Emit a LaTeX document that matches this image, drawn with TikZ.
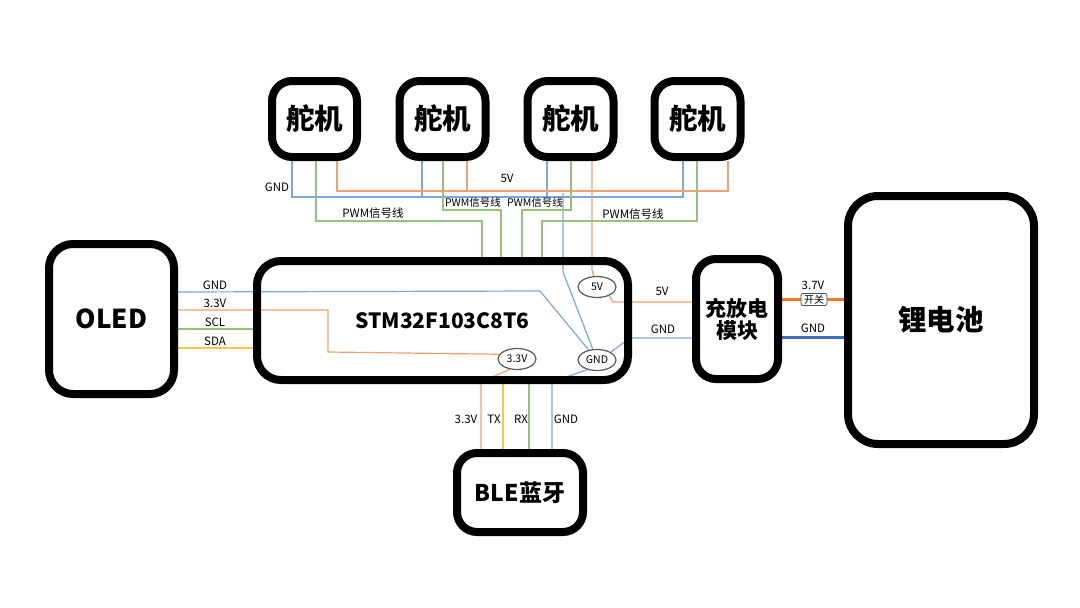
\documentclass[tikz,border=0pt]{standalone}
\usepackage{fontspec}
\setmainfont{Noto Sans CJK SC}
\usetikzlibrary{calc,shapes.geometric,backgrounds}
\definecolor{cb}{RGB}{125,165,225}
\definecolor{co}{RGB}{242,160,110}
\definecolor{cg}{RGB}{150,195,120}
\definecolor{cy}{RGB}{245,200,70}
\definecolor{tko}{RGB}{236,122,40}
\definecolor{tkb}{RGB}{60,110,200}
\begin{document}
\begin{tikzpicture}[x=1pt,y=-1pt,
  box/.style={draw=black, line width=8pt, rounded corners=20pt, inner sep=0pt, align=center, font=\bfseries\fontsize{28.5}{32}\selectfont},
  oval/.style={draw=black!65, line width=1.2pt, ellipse, fill=white, minimum width=38pt, minimum height=21pt, inner sep=0pt, font=\fontsize{10.5}{12}\selectfont},
  lbl/.style={inner sep=0pt, font=\fontsize{11.5}{13}\selectfont},
  slbl/.style={inner sep=0pt, font=\fontsize{10.5}{12}\selectfont},
  bl/.style={draw=cb, line width=1.2pt},
  or/.style={draw=co, line width=1.2pt},
  gr/.style={draw=cg, line width=1.2pt},
  ye/.style={draw=cy, line width=1.2pt},
]
\useasboundingbox (0,0) rectangle (1080,608);

% boxes
\node[box, fill=white, minimum width=85pt, minimum height=76pt] (s1) at (314.5,119) {舵机};
\node[box, fill=white, minimum width=86pt, minimum height=76pt] (s2) at (442.5,119) {舵机};
\node[box, fill=white, minimum width=86pt, minimum height=76pt] (s3) at (570.5,119) {舵机};
\node[box, fill=white, minimum width=86pt, minimum height=76pt] (s4) at (697.5,119) {舵机};
\node[box, minimum width=371pt, minimum height=119pt, rounded corners=24pt, font=\bfseries\fontsize{21}{24}\selectfont] (stm) at (442.5,320.5) {STM32F103C8T6};
\node[box, fill=white, minimum width=125pt, minimum height=150pt, rounded corners=24pt, font=\bfseries\fontsize{26}{30}\selectfont] (oled) at (111.5,319) {OLED};
\node[box, fill=white, minimum width=82pt, minimum height=120pt, font=\bfseries\fontsize{21}{24}\selectfont] (chg) at (737,319) {充放电\\[-2pt]模块};
\node[box, fill=white, minimum width=186pt, minimum height=248pt, rounded corners=30pt, font=\bfseries\fontsize{28.5}{32}\selectfont] (bat) at (941,320) {锂电池};
\node[box, fill=white, minimum width=126pt, minimum height=79pt, font=\bfseries\fontsize{23}{28}\selectfont] (ble) at (520,492.5) {BLE蓝牙};

% ellipses
\node[oval] (v5) at (597,287) {5V};
\node[oval] (gnd) at (597,360) {GND};
\node[oval] (v33) at (517,359) {3.3V};

% pins
\coordinate (s1b) at ($(s1.south)+(-22.5,0)$);
\coordinate (s1g) at ($(s1.south)+(1.5,0)$);
\coordinate (s1o) at ($(s1.south)+(22.5,0)$);
\coordinate (s2b) at ($(s2.south)+(-20.5,0)$);
\coordinate (s2g) at ($(s2.south)+(0.5,0)$);
\coordinate (s2o) at ($(s2.south)+(24.5,0)$);
\coordinate (s3b) at ($(s3.south)+(-23.5,0)$);
\coordinate (s3g) at ($(s3.south)+(0.5,0)$);
\coordinate (s3o) at ($(s3.south)+(21.5,0)$);
\coordinate (s4b) at ($(s4.south)+(-14.5,0)$);
\coordinate (s4g) at ($(s4.south)+(-0.5,0)$);
\coordinate (s4o) at ($(s4.south)+(30.5,0)$);
\coordinate (p1) at (482,221);
\coordinate (p2) at (501,210);
\coordinate (p3) at (522,210);
\coordinate (p4) at (542,221);
\coordinate (gx) at (563,193);
\coordinate (gk) at (563,272);
\coordinate (ok) at (592,270);
\coordinate (og) at (540,291);
\coordinate (o3a) at (328,310);
\coordinate (o3b) at (328,352);
\coordinate (v5k) at (613,302);
\coordinate (gk2) at (630,338);
\coordinate (bo) at (481,382);
\coordinate (bg) at (552,382);

\begin{scope}[on background layer]
\fill[white] (0,0) rectangle (1080,608);
% servo buses
\draw[bl] (s1b) -- ++(0,36) -| (s4b);
\draw[bl] (s2b) -- ++(0,36);
\draw[bl] (s3b) -- ++(0,36);
\draw[bl] (gx) -- (gk) -- (gnd);
\draw[or] (s1o) -- ++(0,30) -| (s4o);
\draw[or] (s2o) -- ++(0,30);
\draw[or] (s3o) -- (ok) -- (v5);
\draw[gr] (s1g) |- (p1) -- (p1 |- stm.north);
\draw[gr] (s2g) |- (p2) -- (p2 |- stm.north);
\draw[gr] (s3g) |- (p3) -- (p3 |- stm.north);
\draw[gr] (s4g) |- (p4) -- (p4 |- stm.north);
% OLED
\draw[bl] ($(oled.east)+(0,-27)$) -- (og) -- (gnd);
\draw[or] ($(oled.east)+(0,-9)$) -- (o3a) -- (o3b) -- (v33.165);
\draw[gr] ($(oled.east)+(0,10)$) coordinate (scl) -- (scl -| stm.west);
\draw[ye] ($(oled.east)+(0,29)$) coordinate (sda) -- (sda -| stm.west);
% charge module
\draw[or] (v5.-35) -- (v5k) -- ($(chg.west)+(0,-17)$);
\draw[bl] (gnd.30) -- (gk2) -- ($(chg.west)+(0,19)$);
% BLE
\draw[or] ($(ble.north)+(-39,0)$) -- (bo) -- (v33.-125);
\draw[ye] ($(ble.north)+(-17,0)$) coordinate (tx) -- (tx |- stm.south);
\draw[gr] ($(ble.north)+(9,0)$) coordinate (rx) -- (rx |- stm.south);
\draw[bl] ($(ble.north)+(32,0)$) -- (bg) -- (gnd.-135);
% battery
\draw[draw=tko, line width=3pt] ($(chg.east)+(0,-20)$) -- ($(bat.west)+(0,-21)$);
\draw[draw=tkb, line width=3pt] ($(chg.east)+(0,18)$) -- ($(bat.west)+(0,17)$);
\end{scope}

\node[draw=black!70, line width=0.8pt, rounded corners=2pt, fill=white, inner sep=0.8pt, minimum width=26pt, minimum height=12pt, font=\fontsize{10}{11}\selectfont] (sw) at (814,299.5) {开关};

% labels
\node[lbl] (lgt) at (277,187) {GND};
\node[lbl] (l5t) at (507,178) {5V};
\node[lbl] (pw1) at (373,213) {PWM信号线};
\node[slbl] (pw2) at (473,203) {PWM信号线};
\node[slbl] (pw3) at (535,203) {PWM信号线};
\node[lbl] (pw4) at (633,214) {PWM信号线};
\node[lbl] (lo1) at (215,285) {GND};
\node[lbl] (lo2) at (215,303.5) {3.3V};
\node[lbl] (lo3) at (215,322.5) {SCL};
\node[lbl] (lo4) at (215,341.5) {SDA};
\node[lbl] (lc5) at (662,291) {5V};
\node[lbl] (lcg) at (663,329) {GND};
\node[lbl] (lb3) at (813,285) {3.7V};
\node[lbl] (lbg) at (813,328) {GND};
\node[lbl] (le1) at (466,419) {3.3V};
\node[lbl] (le2) at (494,419) {TX};
\node[lbl] (le3) at (521,419) {RX};
\node[lbl] (le4) at (566,419) {GND};
\end{tikzpicture}
\end{document}
